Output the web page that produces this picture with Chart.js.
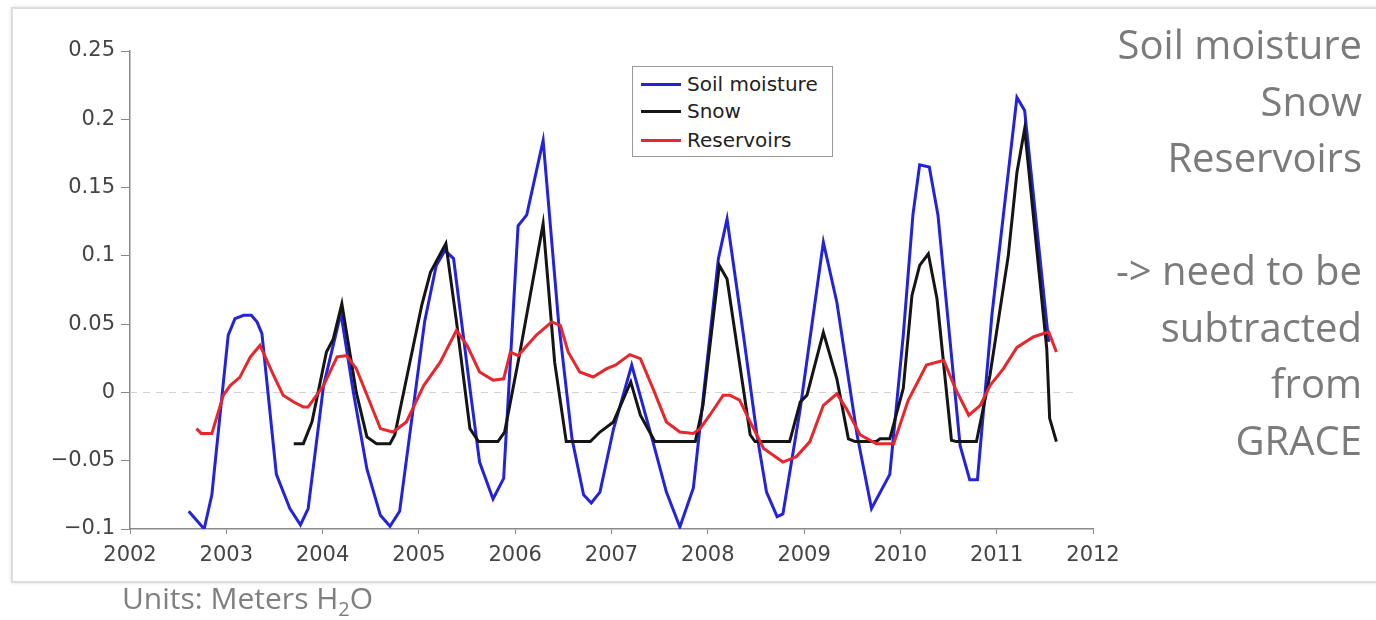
<!DOCTYPE html>
<html>
<head>
<meta charset="utf-8">
<script src="https://cdn.jsdelivr.net/npm/chart.js@4.4.1/dist/chart.umd.min.js"></script>
<style>
  html, body { margin:0; padding:0; background:#ffffff; width:1376px; height:620px; overflow:hidden; }
  #frame { position:absolute; left:11px; top:7px; width:1380px; height:572px; border:2px solid #dcdcdc; box-shadow:0 0 4px rgba(0,0,0,0.12); background:#fff; }
  #chart { position:absolute; left:0; top:0; }
  #legend { position:absolute; left:632px; top:66px; width:199px; height:89px; border:1px solid #9a9a9a; background:#fff; }
  .row { position:absolute; left:0; height:24px; line-height:24px; width:199px; }
  .swatch { position:absolute; left:8px; top:11px; width:40px; height:3px; }
  .ltxt { position:absolute; left:54px; top:0; font-family:"DejaVu Sans"; font-size:20px; color:#222; white-space:nowrap; }
  #notes { position:absolute; right:14px; top:16px; text-align:right; font-family:"Open Sans"; font-size:40px; line-height:56.5px; color:#7b7b7b; white-space:nowrap; }
  #units { position:absolute; left:122px; top:578px; font-family:"Open Sans"; font-size:30px; line-height:40px; color:#7f7f7f; white-space:nowrap; }
  #units sub { font-size:20px; vertical-align:-7px; line-height:0; }
</style>
</head>
<body>
<div id="frame"></div>
<canvas id="chart" width="1376" height="620"></canvas>
<div id="legend"></div>
<div id="notes">Soil moisture<br>Snow<br>Reservoirs<br>&nbsp;<br>-&gt; need to be<br>subtracted<br>from<br>GRACE</div>
<div id="units">Units: Meters H<sub>2</sub>O</div>
<script>
// ---- data (decimal years, metres of water) ----
const seriesNames = ["Soil moisture", "Snow", "Reservoirs"];
const seriesColors = ["#2323dc", "#151515", "#e8262b"];

const soilYears = [2002.61,2002.77,2002.85,2003.02,2003.09,2003.18,2003.26,2003.32,2003.37,2003.52,2003.66,2003.77,2003.85,2004.01,2004.19,2004.32,2004.46,2004.60,2004.70,2004.80,2005.06,2005.18,2005.27,2005.36,2005.53,2005.63,2005.77,2005.88,2006.03,2006.12,2006.29,2006.45,2006.59,2006.71,2006.79,2006.88,2007.02,2007.21,2007.43,2007.57,2007.71,2007.85,2008.11,2008.20,2008.37,2008.51,2008.61,2008.72,2008.78,2008.96,2009.20,2009.34,2009.55,2009.70,2009.89,2010.03,2010.13,2010.20,2010.30,2010.39,2010.62,2010.72,2010.80,2010.95,2011.21,2011.29,2011.54];
const soilValues = [-0.087,-0.100,-0.075,0.042,0.054,0.0565,0.0565,0.0515,0.043,-0.060,-0.085,-0.097,-0.085,0.005,0.058,0.000,-0.056,-0.090,-0.098,-0.087,0.052,0.093,0.104,0.098,0.003,-0.051,-0.078,-0.063,0.122,0.130,0.1845,0.052,-0.034,-0.075,-0.081,-0.073,-0.027,0.020,-0.036,-0.073,-0.0985,-0.070,0.098,0.127,0.042,-0.031,-0.073,-0.091,-0.089,-0.012,0.110,0.066,-0.031,-0.085,-0.060,0.042,0.130,0.1667,0.165,0.130,-0.039,-0.064,-0.064,0.0565,0.216,0.2065,0.037];

const snowYears = [2003.70,2003.80,2003.89,2004.04,2004.11,2004.20,2004.35,2004.46,2004.56,2004.70,2004.75,2005.03,2005.12,2005.28,2005.39,2005.53,2005.62,2005.82,2005.89,2006.05,2006.29,2006.41,2006.53,2006.78,2006.88,2007.02,2007.20,2007.30,2007.45,2007.87,2007.95,2008.12,2008.20,2008.44,2008.49,2008.85,2008.96,2009.03,2009.20,2009.34,2009.46,2009.53,2009.75,2009.79,2009.89,2010.03,2010.12,2010.20,2010.29,2010.38,2010.53,2010.58,2010.79,2010.93,2011.12,2011.21,2011.29,2011.52,2011.55,2011.62];
const snowValues = [-0.0375,-0.0375,-0.0216,0.0296,0.039,0.065,0.000,-0.0326,-0.0375,-0.0375,-0.031,0.064,0.088,0.109,0.052,-0.0265,-0.036,-0.036,-0.029,0.0296,0.1235,0.022,-0.036,-0.036,-0.029,-0.0216,0.0077,-0.0167,-0.036,-0.036,-0.0094,0.093,0.083,-0.031,-0.036,-0.036,-0.007,-0.002,0.044,0.010,-0.034,-0.036,-0.036,-0.034,-0.034,0.003,0.071,0.093,0.1015,0.0686,-0.035,-0.036,-0.036,0.0126,0.100,0.161,0.193,0.032,-0.019,-0.036];

const resYears = [2002.69,2002.74,2002.85,2002.97,2003.04,2003.14,2003.25,2003.35,2003.49,2003.59,2003.70,2003.80,2003.85,2004.01,2004.15,2004.25,2004.35,2004.49,2004.60,2004.73,2004.87,2005.05,2005.22,2005.39,2005.50,2005.63,2005.77,2005.88,2005.95,2006.03,2006.22,2006.38,2006.47,2006.55,2006.67,2006.81,2006.95,2007.04,2007.19,2007.30,2007.43,2007.57,2007.71,2007.85,2007.92,2008.02,2008.16,2008.23,2008.33,2008.44,2008.58,2008.78,2008.92,2009.06,2009.20,2009.34,2009.44,2009.58,2009.75,2009.93,2010.08,2010.27,2010.45,2010.57,2010.71,2010.83,2010.93,2011.07,2011.21,2011.38,2011.54,2011.62];
const resValues = [-0.0265,-0.030,-0.030,-0.002,0.005,0.011,0.026,0.0345,0.0126,-0.002,-0.007,-0.0106,-0.0106,0.005,0.026,0.027,0.0174,-0.007,-0.0265,-0.029,-0.0216,0.005,0.022,0.0455,0.0345,0.015,0.009,0.010,0.0296,0.027,0.042,0.0516,0.049,0.0296,0.015,0.0113,0.0174,0.020,0.0277,0.0247,0.003,-0.0216,-0.029,-0.030,-0.0265,-0.0167,-0.002,-0.002,-0.0057,-0.0216,-0.041,-0.051,-0.047,-0.036,-0.0094,-0.001,-0.012,-0.031,-0.0375,-0.0375,-0.006,0.020,0.0235,0.003,-0.0167,-0.0094,0.005,0.0174,0.033,0.0406,0.0443,0.0296];

const xMin = 2002, xMax = 2012, xStep = 1;
const yMin = -0.1, yMax = 0.25, yStep = 0.05;

// ---- build ----
const pts = (xs, ys) => xs.map((x, i) => ({ x: x, y: ys[i] }));
const seriesData = [pts(soilYears, soilValues), pts(snowYears, snowValues), pts(resYears, resValues)];
const drawOrder = [2, 1, 0]; // reservoirs on top, soil moisture at the bottom

// legend
const legend = document.getElementById('legend');
const rowY = [16.7, 44, 73.3];
seriesNames.forEach((name, i) => {
  const r = document.createElement('div');
  r.className = 'row';
  r.style.top = (rowY[i] - 12) + 'px';
  r.innerHTML = '<div class="swatch" style="background:' + seriesColors[i] + '"></div><div class="ltxt">' + name + '</div>';
  legend.appendChild(r);
});

const zeroLine = {
  id: 'zeroLine',
  beforeDatasetsDraw(chart) {
    const { ctx, scales: { x, y } } = chart;
    const py = Math.round(y.getPixelForValue(0)) + 0.5;
    ctx.save();
    ctx.strokeStyle = '#d2d2d2';
    ctx.lineWidth = 1;
    ctx.setLineDash([7, 6]);
    ctx.beginPath();
    ctx.moveTo(x.getPixelForValue(xMin), py);
    ctx.lineTo(x.getPixelForValue(2011.8), py);
    ctx.stroke();
    ctx.restore();
  }
};

const fmtY = v => {
  const r = Math.round(v * 100) / 100;
  if (r === 0) return '0';
  return (r < 0 ? '\u2212' : '') + String(Math.abs(r));
};

new Chart(document.getElementById('chart'), {
  type: 'line',
  data: {
    datasets: seriesNames.map((name, i) => ({
      label: name,
      data: seriesData[i],
      borderColor: seriesColors[i],
      backgroundColor: seriesColors[i],
      borderWidth: 3,
      pointRadius: 0,
      tension: 0,
      fill: false,
      order: drawOrder[i]
    }))
  },
  options: {
    responsive: false,
    animation: false,
    devicePixelRatio: 1,
    layout: { padding: { top: 51, right: 283, bottom: 0, left: 0 } },
    plugins: { legend: { display: false }, tooltip: { enabled: false } },
    scales: {
      x: {
        type: 'linear', min: xMin, max: xMax,
        afterFit: s => { s.height = 91; },
        ticks: { stepSize: xStep, callback: v => String(v), color: '#444', font: { family: 'DejaVu Sans', size: 21 }, padding: 9, maxRotation: 0, autoSkip: false },
        grid: { drawOnChartArea: false, drawTicks: true, tickLength: 5, color: '#8a8a8a' },
        border: { color: '#8a8a8a', width: 1.5 }
      },
      y: {
        type: 'linear', min: yMin, max: yMax,
        afterFit: s => { s.width = 130; },
        ticks: { stepSize: yStep, callback: fmtY, color: '#444', font: { family: 'DejaVu Sans', size: 21 }, padding: 6 },
        grid: { drawOnChartArea: false, drawTicks: true, tickLength: 9, color: '#8a8a8a' },
        border: { color: '#8a8a8a', width: 1.5 }
      }
    }
  },
  plugins: [zeroLine]
});
</script>
</body>
</html>
